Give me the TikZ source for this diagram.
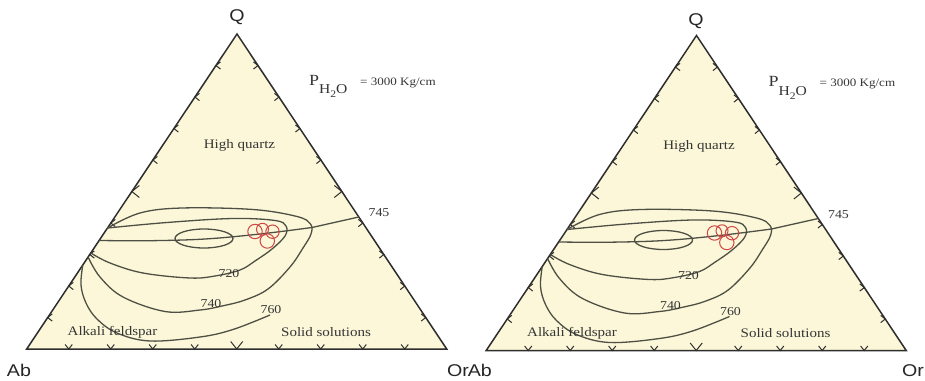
\documentclass[tikz,border=0pt]{standalone}
\usepackage{fontspec}
\setmainfont{Liberation Serif}
\newfontfamily\labfont{Liberation Sans}
\usetikzlibrary{calc}
\definecolor{paper}{HTML}{FBF7D8}
\definecolor{edgec}{HTML}{2E2E2E}
\definecolor{cont}{HTML}{4F5045}
\definecolor{txt}{HTML}{353535}
\definecolor{dot}{HTML}{D24545}
\tikzset{
  tri/.style={draw=edgec, line width=1.5pt, fill=paper, line join=miter},
  tickmark/.style={draw=edgec, line width=1pt},
  contour/.style={draw=cont, line width=1.3pt},
  sample/.style={draw=dot, line width=1pt},
  region/.style={text=txt, font=\fontsize{13}{13}\selectfont, inner sep=0pt},
  iso/.style={text=txt, font=\fontsize{12}{12}\selectfont, inner sep=0pt},
  corner/.style={text=black!85, font=\labfont\fontsize{17}{17}\selectfont, inner sep=0pt},
}
\newcommand\sx[1]{\scalebox{1.155}[1]{#1}}
\newcommand\ternary[1]{%
  \coordinate (#1A) at (26.7,349);
  \coordinate (#1B) at (446.7,349);
  \coordinate (#1C) at (237,34);
  \path[tri] (#1A) -- (#1B) -- (#1C) -- cycle;
  \foreach \i in {1,...,9}{
    \pgfmathsetmacro\s{\i==5 ? 10 : 6}
    \coordinate (#1l\i) at ($(#1A)!\i/10!(#1C)$);
    \coordinate (#1r\i) at ($(#1B)!\i/10!(#1C)$);
    \coordinate (#1b\i) at ($(#1A)!\i/10!(#1B)$);
    \draw[tickmark] ([shift={(0.75*\s,-0.6*\s)}]#1l\i) -- (#1l\i) -- ([shift={(0.75*\s,0.6*\s)}]#1l\i);
    \draw[tickmark] ([shift={(-0.75*\s,-0.6*\s)}]#1r\i) -- (#1r\i) -- ([shift={(-0.75*\s,0.6*\s)}]#1r\i);
    \draw[tickmark] ([shift={(-0.6*\s,-0.75*\s)}]#1b\i) -- (#1b\i) -- ([shift={(0.6*\s,-0.75*\s)}]#1b\i);
  }
  % cotectic line to 745
  \coordinate (#1e) at (358.8,217);
  \draw[contour] plot[smooth, tension=0.6] coordinates {(99.5,240.5) (150,240.7) (205,239) (260,234) (312,227.5)} -- (#1e);
  \draw[contour] (204,238.5) ellipse [x radius=29pt, y radius=9.5pt];
  % 740
  \draw[contour] plot[smooth, tension=0.6] coordinates {(107.5,228) (140,213) (182,208) (253,209.5) (297,216.5) (310.5,224) (311,234) (303,248) (290,267) (268,289) (245,300) (222,306) (200,310) (165,311.5) (123,297) (100,277) (88.1,257)};
  % 720
  \draw[contour] plot[smooth, tension=0.6] coordinates {(107.5,228) (167,222.5) (233,218.5) (275,220.5) (286,226) (285,236) (272,249) (255,261) (240,270) (215,276) (190,278) (143,273) (110,263) (90.8,253)};
  % 760
  \draw[contour] plot[smooth, tension=0.6] coordinates {(82.8,265) (81,285) (86,303) (97,319) (117,333) (150,341) (200,337) (233,329.5) (270,315)};
  % samples
  \draw[sample] (255,231.5) circle[radius=7.2pt];
  \draw[sample] (262.5,229.3) circle[radius=6pt];
  \draw[sample] (272.5,231.7) circle[radius=6.7pt];
  \draw[sample] (267.3,241) circle[radius=7.2pt];
  % labels
  \node[region] (#1hq) at (239.5,145) {\sx{High quartz}};
  \node[region] (#1af) at (112.5,332) {\sx{Alkali feldspar}};
  \node[region] (#1ss) at (326,332) {\sx{Solid solutions}};
  \node[iso] (#1t745) at (379,213) {\sx{745}};
  \node[iso] (#1t720) at (229,274) {\sx{720}};
  \node[iso] (#1t740) at (211,304) {\sx{740}};
  \node[iso] (#1t760) at (271,310) {\sx{760}};
  \node[text=txt, inner sep=0pt, anchor=base west] (#1p) at (309,85) {\sx{\fontsize{15.5}{15.5}\selectfont P\raisebox{-8.5pt}{\fontsize{13.5}{13.5}\selectfont H\raisebox{-4pt}{\fontsize{10}{10}\selectfont 2}O}\hspace{11pt}\fontsize{11.3}{11.3}\selectfont= 3000 Kg/cm}};
}
\begin{document}
\begin{tikzpicture}[x=1pt,y=-1pt]
  \useasboundingbox (0,0) rectangle (925,380);
  \fill[white] (0,0) rectangle (925,380);
  \begin{scope}
    \ternary{L}
  \end{scope}
  \begin{scope}[shift={(459.5,1.5)}]
    \ternary{R}
  \end{scope}
  \node[corner] (LQ) at (237,17) {\sx{Q}};
  \node[corner] (RQ) at (696,21) {\sx{Q}};
  \node[corner, anchor=base] (LAb) at (19,376) {\sx{Ab}};
  \node[corner, anchor=base west] (LOr) at (447,376) {\sx{Or}};
  \node[corner, anchor=base east] (RAb) at (492,376) {\sx{Ab}};
  \node[corner, anchor=base east] (ROr) at (924,376) {\sx{Or}};
\end{tikzpicture}
\end{document}
